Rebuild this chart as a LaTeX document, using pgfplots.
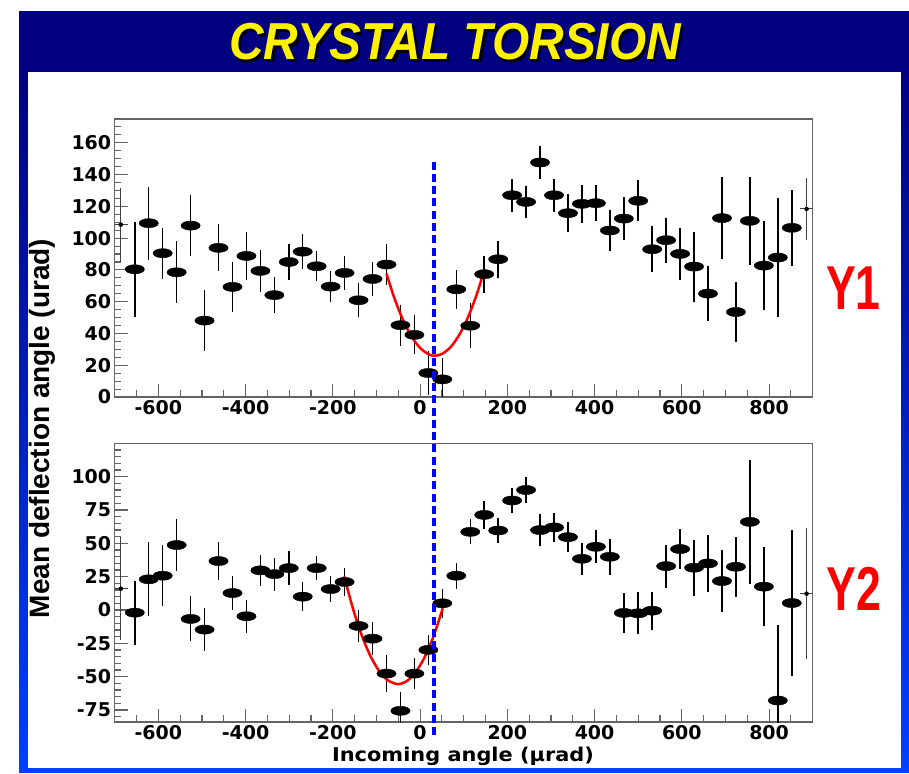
\documentclass[border=0pt]{standalone}
\usepackage{fontspec}
\setmainfont{DejaVu Sans}
\newfontfamily\libsans{Liberation Sans}
\usepackage{graphicx}
\usepackage{pgfplots}
\pgfplotsset{compat=1.18}
\usepackage{pgfplotstable}

\definecolor{navy}{RGB}{0,0,128}
\definecolor{brightblue}{RGB}{0,64,255}
\definecolor{framegray}{RGB}{100,100,100}
\definecolor{dashblue}{RGB}{0,0,255}

\pgfplotstableread{
x y e
-654 80.4 30
-622 109.4 23
-590 90.5 16
-558 78.5 19.5
-526 107.9 19.4
-494 48.1 19
-462 93.9 14.7
-430 69.3 15.7
-398 88.8 15
-366 79.4 13.3
-334 64.1 11.5
-301 85.0 11.2
-269 91.5 11
-237 82.3 9.3
-205 69.5 10
-173 78.1 10.7
-141 60.9 10.7
-109 74.3 10.8
-77 83.4 12.8
-45 45.2 12.8
-13 39.1 12.2
19 15.1 14
51 11.1 13.3
83 67.8 12.4
115 44.9 14.2
147 77.3 11.7
179 86.7 11.8
211 127.0 10.3
243 122.8 10.2
275 147.6 10.5
307 127.0 10.3
339 115.7 11.8
371 121.6 11.9
403 122.0 11.3
435 104.8 13.1
467 112.3 13.3
500 123.5 12.8
532 93.0 14.6
564 98.7 14.2
596 90.1 16.3
628 82.1 22
660 65.1 17.3
692 112.6 26
724 53.5 18.6
756 110.9 27.8
788 82.7 28
820 87.8 37.5
852 106.5 23.8
}\topdata

\pgfplotstableread{
x y e
-654 -2.0 24
-622 23.0 27.7
-590 25.7 22.8
-558 48.7 19.4
-526 -6.7 16.9
-494 -14.7 16.4
-462 36.7 14
-430 12.7 13
-398 -4.7 12.5
-366 29.7 11.8
-334 26.9 12.3
-301 31.4 12.5
-269 10.0 10.9
-237 31.4 9
-205 15.7 9.9
-173 21.0 10.6
-141 -12.0 11.9
-109 -21.5 12.5
-77 -47.7 13.7
-45 -75.6 14
-13 -47.7 11.6
19 -29.9 11.2
51 5.0 11
83 25.7 9.6
115 58.6 9.4
147 71.3 10.2
179 59.6 9.6
211 82.1 9.4
243 90.0 10
275 59.9 12.2
307 61.9 10.6
339 54.6 11.2
371 38.4 11.9
403 47.4 12.5
435 39.9 13.7
467 -2.2 14.7
500 -2.5 15.7
532 -0.5 14.2
564 32.9 16.2
596 45.7 15.1
628 31.7 21
660 34.9 21.6
692 21.7 23.4
724 32.4 22.5
756 66.1 46.4
788 17.5 29.4
820 -67.9 56.7
852 5.2 54.6
}\botdata

\pgfplotsset{
  rootax/.style={
    scale only axis, width=698pt,
    xmin=-700, xmax=900,
    axis line style={framegray, line width=1.1pt},
    tick style={framegray, line width=1.1pt},
    tick pos=left, tick align=inside,
    major tick length=13pt, minor tick length=6.5pt,
    xtick={-600,-400,-200,0,200,400,600,800},
    xticklabels={-600,-400,-200,0,200,400,600,800},
    minor xtick={-700,-650,...,900},
    tick label style={font=\fontsize{19}{19}\selectfont\bfseries, text=black},
    /pgf/number format/assume math mode=true,
    axis background/.style={fill=white},
  },
  datapts/.style={
    only marks, mark=*, mark size=4.6pt,
    mark options={xscale=2.1, fill=black, draw=black},
    error bars/.cd, y dir=both, y explicit, error mark=none,
    error bar style={line width=1.5pt, black},
  },
  crosspt/.style={
    only marks, mark=none, forget plot,
    error bars/.cd, x dir=both, x explicit, y dir=both, y explicit, error mark=none,
    error bar style={line width=1.1pt, black!75},
  },
}

\begin{document}
\begin{tikzpicture}
\fill[white] (0pt,0pt) rectangle (909pt,773pt);
% frame
\fill[navy] (19pt,701pt) rectangle (909pt,762pt);
\shade[top color=navy, bottom color=brightblue] (19pt,4pt) rectangle (27.7pt,701.5pt);
\shade[top color=navy, bottom color=brightblue] (901pt,4pt) rectangle (909pt,701.5pt);
\fill[brightblue] (19pt,0pt) rectangle (909pt,4.7pt);
% title
\node[text=black] at (457.5pt,728.5pt) {\scalebox{0.92}[1]{\libsans\bfseries\itshape\fontsize{52}{52}\selectfont CRYSTAL TORSION}};
\node[text=yellow] at (455pt,731pt) {\scalebox{0.92}[1]{\libsans\bfseries\itshape\fontsize{52}{52}\selectfont CRYSTAL TORSION}};

% top panel
\begin{axis}[rootax, at={(114.7pt,376pt)}, anchor=south west, height=278pt,
  ymin=0, ymax=175,
  ytick={0,20,...,160}, yticklabels={0,20,40,60,80,100,120,140,160},
  minor ytick={0,5,...,175}]
\addplot[datapts] table[x=x, y=y, y error=e] {\topdata};
\addplot[crosspt] coordinates {(-686,108.5) +- (16,23.3)};
\addplot[crosspt] coordinates {(886,118.4) +- (16,19.6)};
\addplot[red, line width=2.5pt, smooth, no marks] coordinates {
(-77,77.7) (-60,63.1) (-40,49.0) (-20,38.2) (0,30.9) (20,26.8) (34,26.0)
(50,27.1) (70,31.4) (90,39.2) (110,50.3) (130,64.7) (148,80.6)};
\coordinate (vt) at (axis cs:33,148.2);
\end{axis}

% bottom panel
\begin{axis}[rootax, at={(114.7pt,51pt)}, anchor=south west, height=278.7pt,
  ymin=-84, ymax=125,
  ytick={-75,-50,...,100}, yticklabels={-75,-50,-25,0,25,50,75,100},
  minor ytick={-80,-75,...,125}]
\addplot[datapts] table[x=x, y=y, y error=e] {\botdata};
\addplot[crosspt] coordinates {(-686,16) +- (16,38.5)};
\addplot[crosspt] coordinates {(886,12.2) +- (16,49.2)};
\addplot[red, line width=2.5pt, smooth, no marks] coordinates {
(-174,25.3) (-155,2.3) (-135,-17.9) (-115,-33.7) (-95,-45.2) (-75,-52.5) (-51,-55.6)
(-30,-53.2) (-10,-46.6) (10,-35.7) (30,-20.5) (52,1.2)};
\coordinate (vb) at (axis cs:33,-97);
\end{axis}

\draw[dashblue, line width=4pt, dash pattern=on 8pt off 4.3pt] (vt) -- (vb);

% labels
\node[rotate=90] at (42pt,344.5pt) {\libsans\bfseries\fontsize{28}{28}\selectfont Mean deflection angle (urad)};
\node at (463pt,17pt) {\scalebox{1.1}[1]{\bfseries\fontsize{19}{19}\selectfont Incoming angle (\textmu rad)}};
\node[text=red] at (853.5pt,485pt) {\scalebox{0.72}[1]{\libsans\bfseries\fontsize{62}{62}\selectfont Y1}};
\node[text=red] at (854pt,184pt) {\scalebox{0.72}[1]{\libsans\bfseries\fontsize{62}{62}\selectfont Y2}};
\end{tikzpicture}
\end{document}
